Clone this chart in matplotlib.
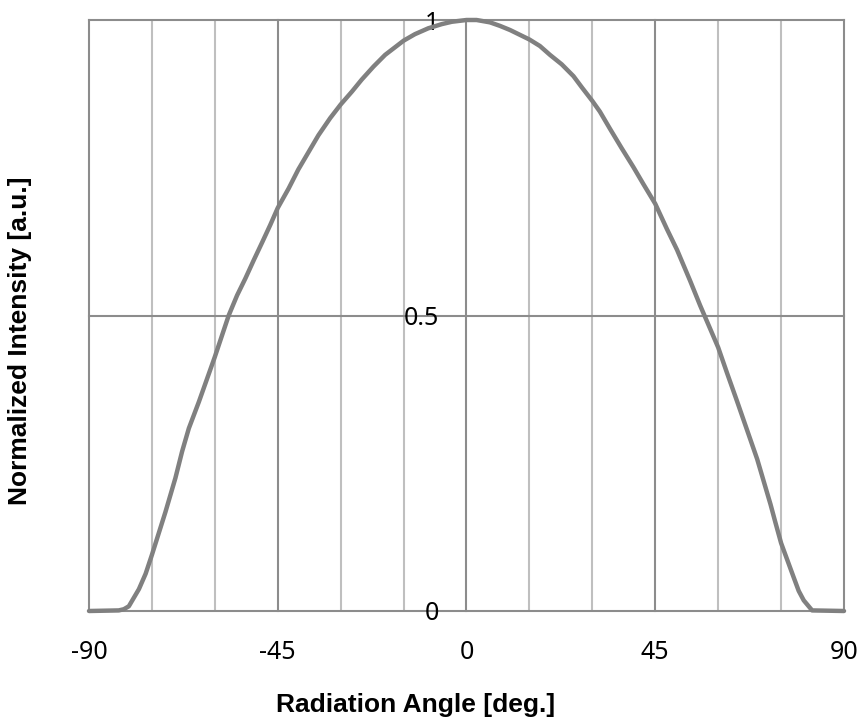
import matplotlib
matplotlib.use("Agg")
import matplotlib.pyplot as plt
from matplotlib.ticker import MultipleLocator

plt.rcParams['axes.unicode_minus'] = False

# Data
angle = [-90, -82.9, -81.7, -80.5, -78.1, -76.5, -75, -73.4, -71.8, -69.4, -67.8,
         -66.2, -63.8, -62.2, -60, -56.7, -54.7, -52.7, -50.7, -48.7, -46.8, -45,
         -42.4, -40.1, -37.7, -35.3, -32.5, -30, -27.3, -25, -22.2, -19.4, -15,
         -12.3, -9.1, -5.9, -3.5, 0,
         2.4, 5.6, 8, 10.4, 12.7, 15, 17.5, 19.9, 22.7, 25.5, 27.5, 30, 31.8, 34.2,
         37, 39.8, 42.2, 45, 47.8, 50.2, 53.3, 55.7, 57.7, 60, 62.1, 64.5, 66.9,
         69.3, 72.5, 73.6, 75, 78, 79.2, 80.4, 82.4, 90]
intensity = [0.0, 0.001, 0.003, 0.008, 0.037, 0.063, 0.095, 0.131, 0.167, 0.225, 0.270,
             0.309, 0.354, 0.386, 0.43, 0.50, 0.534, 0.563, 0.594, 0.624, 0.653, 0.682,
             0.715, 0.747, 0.776, 0.805, 0.834, 0.857, 0.879, 0.899, 0.921, 0.941, 0.965,
             0.976, 0.986, 0.993, 0.997, 1.0,
             1.0, 0.996, 0.99, 0.983, 0.975, 0.967, 0.956, 0.941, 0.925, 0.905, 0.886, 0.863, 0.845, 0.816,
             0.783, 0.751, 0.722, 0.689, 0.646, 0.611, 0.559, 0.517, 0.484, 0.446, 0.403, 0.355, 0.306,
             0.257, 0.180, 0.151, 0.115, 0.057, 0.034, 0.018, 0.001, 0.0]

x_ticks = [-90, -45, 0, 45, 90]
y_ticks = [0, 0.5, 1]
y_tick_labels = ["0", "0.5", "1"]

fig = plt.figure(figsize=(8.62, 7.19), dpi=100)
ax = fig.add_axes([89/862, 1-611/719, (844-89)/862, (611-20)/719])

ax.set_xlim(-90, 90)
ax.set_ylim(0, 1)

for s in ax.spines.values():
    s.set_visible(False)
ax.spines['left'].set_position(('data', 0))

ax.set_xticks(x_ticks)
ax.set_xticklabels([str(v) for v in x_ticks])
ax.xaxis.set_minor_locator(MultipleLocator(15))
ax.set_yticks(y_ticks)
ax.set_yticklabels(y_tick_labels)

ax.grid(True, which='minor', axis='x', color='#bfbfbf', linewidth=1.5)
ax.grid(True, which='major', axis='x', color='#8c8c8c', linewidth=1.5)
ax.grid(True, which='major', axis='y', color='#8c8c8c', linewidth=1.5)
ax.set_axisbelow(True)

ax.tick_params(axis='both', which='both', length=0)
ax.tick_params(axis='x', pad=21)
ax.tick_params(axis='y', pad=20)
for lab in ax.get_xticklabels() + ax.get_yticklabels():
    lab.set_fontfamily(['Noto Sans', 'DejaVu Sans'])
    lab.set_fontsize(18)
    lab.set_color('black')

for gl in ax.get_xgridlines() + ax.get_ygridlines():
    gl.set_clip_on(False)

ax.plot(angle, intensity, color='#808080', linewidth=3.2, solid_capstyle='round',
        solid_joinstyle='round', clip_on=False, zorder=3)

fig.text(416/862, 1 - 705/719, "Radiation Angle [deg.]",
         ha='center', va='center', fontsize=19, fontweight='bold',
         family=['Liberation Sans', 'DejaVu Sans'])
fig.text(20/862, 1 - 341/719, "Normalized Intensity [a.u.]", rotation=90,
         ha='center', va='center', fontsize=19, fontweight='bold',
         family=['Liberation Sans', 'DejaVu Sans'])

fig.savefig("out.png", dpi=100)
